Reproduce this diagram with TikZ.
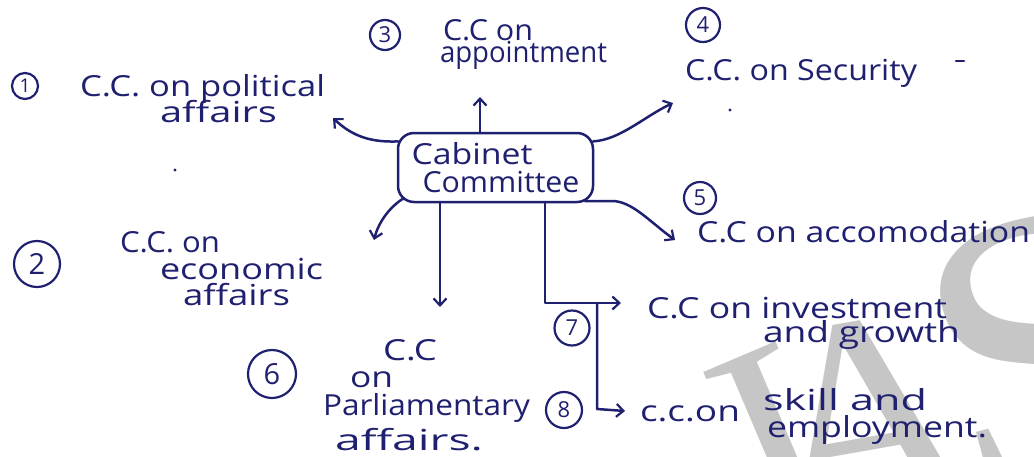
\documentclass[tikz,border=0pt]{standalone}
\usepackage{fontspec}
\usepackage{graphicx}
\setmainfont{Open Sans}
\newfontfamily\wmfont{Liberation Serif}
\usetikzlibrary{arrows.meta}
\definecolor{ink}{RGB}{32,32,112}
\definecolor{wmgray}{RGB}{198,198,198}
% stretch a line of text to a given width, keeping its height
\newcommand\inkfit[2]{\resizebox{#1pt}{\height}{#2}}

\begin{document}
\begin{tikzpicture}[x=1pt,y=-1pt,
  every node/.style={inner sep=0pt, outer sep=0pt},
  lbl/.style={text=ink, font=\fontsize{29}{29}\selectfont, anchor=base west},
  num/.style={draw=ink, text=ink, circle, line width=2.2pt, font=\fontsize{22}{22}\selectfont},
  bignum/.style={num, font=\fontsize{29}{29}\selectfont},
  box/.style={draw=ink, line width=2.5pt, rounded corners=16pt, minimum width=195pt,
    minimum height=69pt, text=ink, font=\fontsize{29}{29}\selectfont, align=left},
  link/.style={draw=ink, line width=2.5pt, line cap=round, line join=round},
  arr/.style={link, -{Straight Barb[length=7pt,width=13pt,line width=2.2pt]}},
  wm/.style={text=wmgray, font=\wmfont\fontsize{300}{300}\selectfont, anchor=base west},
]
\useasboundingbox (0,0) rectangle (1034,456);
\fill[white] (0,0) rectangle (1034,456);
\clip (0,0) rectangle (1034,456);

% watermark letters
\node[wm, rotate=23] (wmI) at (770,557) {I};
\node[wm, rotate=10] (wmA) at (776,536) {A};
\node[wm, rotate=15, font=\wmfont\fontsize{400}{400}\selectfont] (wmS) at (968,507) {S};

% central box
\node[box] (cab) at (495.5,167.5)
  {\inkfit{121}{Cabinet}\\[-1pt]\hspace*{11pt}\inkfit{157}{Committee}};

% numbered circles
\node[num, minimum size=26pt, font=\fontsize{19}{19}\selectfont] (n1) at (25,86) {1};
\node[bignum, minimum size=46pt] (n2) at (37,264) {2};
\node[num, minimum size=30pt] (n3) at (385,35) {3};
\node[num, minimum size=34pt] (n4) at (703,25) {4};
\node[num, minimum size=32pt] (n5) at (700,198) {5};
\node[bignum, minimum size=48pt] (n6) at (272,374) {6};
\node[num, minimum size=35pt] (n7) at (572,328) {7};
\node[num, minimum size=36pt] (n8) at (564,410) {8};

% committee labels
\node[lbl] (l1a) at (80,96) {\inkfit{245}{C.C. on political}};
\node[lbl] (l1b) at (160,122) {\inkfit{117}{affairs}};
\node[lbl] (l2a) at (120,252) {\inkfit{100}{C.C. on}};
\node[lbl] (l2b) at (160,279) {\inkfit{163}{economic}};
\node[lbl] (l2c) at (183,305) {\inkfit{107}{affairs}};
\node[lbl] (l3a) at (443,40) {\inkfit{90}{C.C on}};
\node[lbl] (l3b) at (440,62) {\inkfit{167}{appointment}};
\node[lbl] (l4) at (685,80) {\inkfit{232}{C.C. on Security}};
\node[lbl] (l5) at (697,242) {\inkfit{333}{C.C on accomodation}};
\node[lbl] (l6a) at (383,360) {\inkfit{54}{C.C}};
\node[lbl] (l6b) at (350,387) {\inkfit{43}{on}};
\node[lbl] (l6c) at (323,415) {\inkfit{207}{Parliamentary}};
\node[lbl] (l6d) at (335,450) {\inkfit{148}{affairs.}};
\node[lbl] (l7a) at (647,318) {\inkfit{300}{C.C on investment}};
\node[lbl] (l7b) at (763,342) {\inkfit{197}{and growth}};
\node[lbl] (l8a) at (640,421) {\inkfit{100}{c.c.on}};
\node[lbl] (l8b) at (763,410) {\inkfit{164}{skill and}};
\node[lbl] (l8c) at (767,437) {\inkfit{220}{employment.}};

% arrow ends beside the labels
\coordinate (t1) at (333,118);
\coordinate (t2) at (374,240);
\coordinate (t3) at (480,97);
\coordinate (t4) at (673,103);
\coordinate (t5) at (675,240);
\coordinate (t6) at (440,307);
\coordinate (t7) at (621,303);
\coordinate (t8) at (625,411);
\coordinate (j7) at (545,303);
\coordinate (j8) at (597,303);
\coordinate (k8) at (597,409);
\coordinate (c5) at (612,201);

% connectors
\draw[arr] (cab.165) .. controls (365,143) and (348,132) .. (t1);
\draw[arr] (cab.north -| t3) -- (t3);
\draw[arr] (cab.15) .. controls (620,140) and (645,116) .. (t4);
\draw[arr] ([shift={(6pt,4pt)}]cab.south west) .. controls (388,208) and (378,224) .. (t2);
\draw[arr] (cab.south -| t6) -- (t6);
\draw[arr] ([shift={(-8pt,1pt)}]cab.south east) -- (c5) .. controls (632,201) and (650,222) .. (t5);
\draw[arr] (cab.south -| j7) -- (j7) -- (t7);
\draw[arr] (j8) -- (k8) -- (t8);

% stray ink marks
\fill[ink] (175,170) circle (1.6pt);
\fill[ink] (730,110) circle (1.6pt);
\draw[link] (956,61) -- (964,61);
\end{tikzpicture}
\end{document}
